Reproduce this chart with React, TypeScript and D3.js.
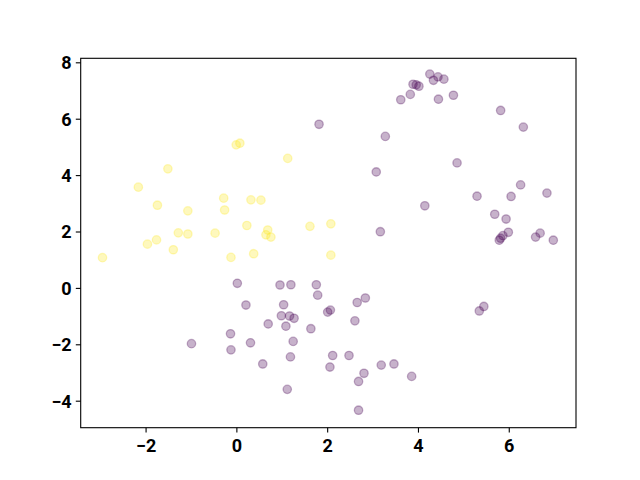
import React from "react";
import * as d3 from "d3";

const yellowX = [-0.015, 0.066, 1.12, -1.52, -2.17, -0.29, 0.31, 0.53, -1.75, -1.08, -0.27, 0.22, 1.61, 2.07, -1.29, -1.08, -0.48, 0.68, 0.64, 0.75, -1.77, -1.97, -2.96, -1.40, -0.13, 0.37, 2.07];
const yellowY = [5.09, 5.15, 4.61, 4.24, 3.59, 3.20, 3.14, 3.13, 2.95, 2.75, 2.78, 2.23, 2.20, 2.29, 1.97, 1.93, 1.96, 2.07, 1.90, 1.82, 1.72, 1.57, 1.09, 1.37, 1.10, 1.23, 1.18];

const purpleX = [1.81, 0.01, 0.95, 1.19, 1.75, 1.78, 0.20, 1.03, 0.98, 1.16, 1.26, 2.00, 2.06, 0.69, 1.08, 1.63, -0.14, 0.30, -1.00, -0.13, 1.24, 1.18, 0.57, 2.11, 2.05, 1.11, 2.65, 2.83, 2.60, 5.34, 5.44, 2.47, 3.18, 3.46, 2.80, 2.68, 3.85, 2.68,
  4.25, 4.43, 4.33, 4.56, 3.88, 3.95, 4.01, 3.82, 3.61, 4.44, 4.77, 5.81, 6.31, 3.27, 4.85, 3.07, 6.25, 5.29, 6.04, 6.83, 4.14, 5.68, 5.93, 3.16, 5.98, 6.68, 6.58, 5.86, 5.81, 5.78, 6.97];
const purpleY = [5.82, 0.18, 0.12, 0.13, 0.13, -0.24, -0.59, -0.58, -0.97, -0.98, -1.06, -0.84, -0.77, -1.26, -1.34, -1.43, -1.61, -1.93, -1.96, -2.18, -1.88, -2.43, -2.68, -2.38, -2.79, -3.58, -0.50, -0.34, -1.15, -0.80, -0.64, -2.38, -2.72, -2.68, -3.01, -3.30, -3.12, -4.32,
  7.60, 7.50, 7.38, 7.42, 7.24, 7.22, 7.17, 6.88, 6.69, 6.71, 6.85, 6.31, 5.72, 5.39, 4.45, 4.13, 3.67, 3.27, 3.26, 3.38, 2.93, 2.63, 2.46, 2.01, 1.99, 1.96, 1.82, 1.87, 1.78, 1.71, 1.71];

const xTicks = [-2, 0, 2, 4, 6];
const yTicks = [-4, -2, 0, 2, 4, 6, 8];

const W = 640, H = 480;
const L = 80.7, R = 576, T = 58.3, B = 427.7;

export default function App() {
  const x = d3.scaleLinear().domain([-3.44, 7.47]).range([L, R]);
  const y = d3.scaleLinear().domain([-4.94, 8.16]).range([B, T]);
  const fmt = (v: number) => (v < 0 ? "\u2212" + Math.abs(v) : String(v));
  const purple = purpleX.map((v, i) => [v, purpleY[i]]);
  const yellow = yellowX.map((v, i) => [v, yellowY[i]]);
  const font = "Roboto, 'DejaVu Sans', sans-serif";
  return (
    <div style={{ position: "fixed", left: 0, top: 0 }}>
      <svg width={W} height={H} style={{ display: "block", background: "#fff" }}>
        <rect x={0} y={0} width={W} height={H} fill="#fff" />
        {purple.map((p, i) => (
          <circle key={"p" + i} cx={x(p[0])} cy={y(p[1])} r={4.2} fill="#440154" fillOpacity={0.3} stroke="#440154" strokeOpacity={0.3} strokeWidth={1.3} />
        ))}
        {yellow.map((p, i) => (
          <circle key={"y" + i} cx={x(p[0])} cy={y(p[1])} r={4.2} fill="#fde725" fillOpacity={0.3} stroke="#fde725" strokeOpacity={0.3} strokeWidth={1.3} />
        ))}
        <rect x={L} y={T} width={R - L} height={B - T} fill="none" stroke="#000" strokeWidth={1.1} />
        {xTicks.map((t) => (
          <g key={"x" + t}>
            <line x1={x(t)} x2={x(t)} y1={B} y2={B + 4.9} stroke="#000" strokeWidth={1.1} />
            <text x={x(t)} y={B + 24} textAnchor="middle" fontFamily={font} fontWeight="bold" fontSize={18} fill="#000">{fmt(t)}</text>
          </g>
        ))}
        {yTicks.map((t) => (
          <g key={"yt" + t}>
            <line x1={L - 4.9} x2={L} y1={y(t)} y2={y(t)} stroke="#000" strokeWidth={1.1} />
            <text x={L - 9} y={y(t)} dy="0.36em" textAnchor="end" fontFamily={font} fontWeight="bold" fontSize={18} fill="#000">{fmt(t)}</text>
          </g>
        ))}
      </svg>
    </div>
  );
}
